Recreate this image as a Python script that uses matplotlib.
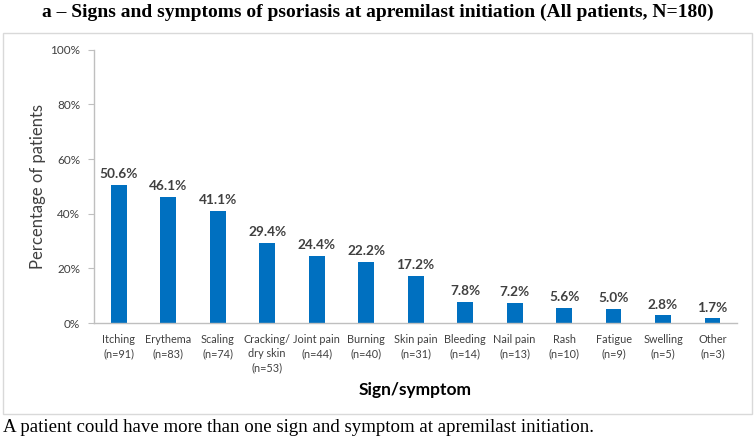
import matplotlib.pyplot as plt
from matplotlib.patches import Rectangle
from matplotlib.ticker import PercentFormatter

categories = ['Itching\n(n=91)', 'Erythema\n(n=83)', 'Scaling\n(n=74)', 'Cracking/\ndry skin\n(n=53)',
              'Joint pain\n(n=44)', 'Burning\n(n=40)', 'Skin pain\n(n=31)', 'Bleeding\n(n=14)',
              'Nail pain\n(n=13)', 'Rash\n(n=10)', 'Fatigue\n(n=9)', 'Swelling\n(n=5)', 'Other\n(n=3)']
percent = [50.6, 46.1, 41.1, 29.4, 24.4, 22.2, 17.2, 7.8, 7.2, 5.6, 5.0, 2.8, 1.7]
yticks = [0, 20, 40, 60, 80, 100]

plt.rcParams['font.family'] = ['Lato', 'DejaVu Sans']

fig = plt.figure(figsize=(7.55, 4.45), dpi=100)
ax = fig.add_axes([0.1245, 0.274, 0.852, 0.614])

x = range(len(categories))
bars = ax.bar(x, percent, width=0.32, color='#0070C0')
for b, v in zip(bars, percent):
    ax.text(b.get_x() + b.get_width() / 2, v + 1.8, f'{v:.1f}%', ha='center', va='bottom',
            fontsize=9.8, fontweight='bold', color='#404040')

ax.set_xlim(-0.5, len(categories) - 0.5)
ax.set_ylim(0, 100)
ax.set_yticks(yticks)
ax.yaxis.set_major_formatter(PercentFormatter(decimals=0))
ax.set_xticks(list(x))
ax.set_xticklabels(categories, fontsize=7.8, color='#404040', linespacing=1.35)
ax.tick_params(axis='x', length=0, pad=8)
ax.tick_params(axis='y', length=4, color='#BFBFBF', labelsize=8.5, labelcolor='#404040', pad=6)
for s in ['top', 'right']:
    ax.spines[s].set_visible(False)
for s in ['left', 'bottom']:
    ax.spines[s].set_color('#BFBFBF')
    ax.spines[s].set_linewidth(1)

ax.set_ylabel('Percentage of patients', fontsize=12, color='#404040', labelpad=3)
ax.set_xlabel('Sign/symptom', fontsize=12.5, fontweight='bold', color='#000000', labelpad=6)

# chart frame
fig.patches.append(Rectangle((0.004, 1 - 414 / 445), 0.992, (414 - 33) / 445,
                             transform=fig.transFigure, fill=False, edgecolor='#D9D9D9', linewidth=1))

fig.text(0.5, 1 - 12 / 445, 'a \u2013 Signs and symptoms of psoriasis at apremilast initiation (All patients, N=180)',
         ha='center', va='center', fontsize=14, fontweight='bold', family=['Liberation Serif', 'DejaVu Serif'])
fig.text(0.004, 1 - 428 / 445, 'A patient could have more than one sign and symptom at apremilast initiation.',
         ha='left', va='center', fontsize=13.6, family=['Liberation Serif', 'DejaVu Serif'])

fig.savefig('out.png', dpi=100)
